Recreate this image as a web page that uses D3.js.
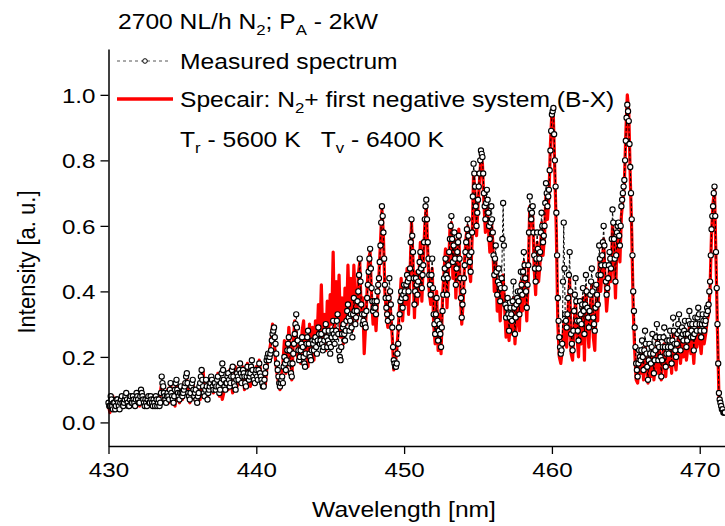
<!DOCTYPE html>
<html lang="en">
<head>
  <meta charset="UTF-8">
  <title>N2+ spectrum</title>
  <script src="https://cdn.jsdelivr.net/npm/d3@7"></script>
</head>
<body style="margin:0; background:#fff;">
<script>
  // sampling grid of the spectrometer (measured every 0.05 nm, Specair every 0.1 nm)
  const wlStart = 430, wlStep = 0.1;

  // measured intensities on the whole-step pixels, one row per nm (430.0 ... 471.7)
  const measured = [
    0.06,0.05,0.07,0.04,0.06,0.05,0.07,0.05,0.06,0.08,
    0.05,0.07,0.09,0.06,0.05,0.08,0.06,0.07,0.05,0.09,
    0.07,0.06,0.10,0.08,0.06,0.07,0.05,0.08,0.06,0.07,
    0.05,0.06,0.08,0.05,0.07,0.06,0.14,0.11,0.08,0.06,
    0.09,0.07,0.12,0.08,0.06,0.10,0.13,0.09,0.07,0.11,
    0.08,0.10,0.12,0.15,0.09,0.07,0.11,0.13,0.08,0.10,
    0.06,0.09,0.12,0.16,0.11,0.08,0.13,0.07,0.10,0.12,
    0.13,0.10,0.12,0.11,0.14,0.09,0.12,0.18,0.13,0.10,
    0.12,0.15,0.11,0.14,0.17,0.12,0.10,0.15,0.13,0.18,
    0.12,0.16,0.14,0.11,0.17,0.13,0.15,0.19,0.14,0.12,
    0.16,0.13,0.18,0.14,0.12,0.11,0.15,0.19,0.21,0.20,
    0.22,0.27,0.29,0.24,0.18,0.14,0.11,0.13,0.12,0.20,
    0.16,0.22,0.26,0.18,0.14,0.21,0.27,0.33,0.25,0.19,
    0.22,0.26,0.20,0.17,0.24,0.28,0.21,0.19,0.25,0.22,
    0.26,0.21,0.29,0.24,0.27,0.22,0.25,0.30,0.23,0.28,
    0.21,0.26,0.31,0.24,0.28,0.33,0.22,0.19,0.27,0.30,
    0.25,0.31,0.36,0.28,0.33,0.26,0.38,0.30,0.34,0.40,
    0.50,0.36,0.30,0.33,0.29,0.38,0.46,0.53,0.41,0.34,
    0.37,0.33,0.40,0.44,0.54,0.66,0.58,0.42,0.35,0.31,
    0.44,0.36,0.29,0.19,0.17,0.18,0.24,0.33,0.40,0.35,
    0.42,0.38,0.45,0.40,0.47,0.62,0.52,0.36,0.44,0.39,
    0.46,0.52,0.41,0.48,0.62,0.68,0.55,0.45,0.39,0.50,
    0.33,0.27,0.38,0.25,0.30,0.23,0.34,0.44,0.50,0.39,
    0.48,0.56,0.63,0.49,0.58,0.42,0.52,0.57,0.44,0.32,
    0.40,0.48,0.55,0.62,0.51,0.46,0.58,0.79,0.72,0.60,
    0.68,0.76,0.83,0.81,0.70,0.62,0.71,0.64,0.56,0.66,
    0.58,0.45,0.54,0.39,0.47,0.37,0.44,0.67,0.41,0.32,
    0.38,0.28,0.35,0.31,0.43,0.27,0.36,0.40,0.33,0.46,
    0.39,0.52,0.44,0.35,0.48,0.69,0.62,0.66,0.51,0.43,
    0.58,0.47,0.52,0.64,0.55,0.60,0.73,0.66,0.71,0.83,
    0.94,0.96,0.80,0.64,0.38,0.26,0.21,0.24,0.61,0.33,
    0.29,0.38,0.52,0.27,0.22,0.34,0.44,0.31,0.25,0.37,
    0.30,0.41,0.27,0.45,0.35,0.29,0.39,0.47,0.32,0.28,
    0.42,0.36,0.54,0.45,0.51,0.60,0.48,0.39,0.44,0.52,
    0.47,0.65,0.56,0.43,0.58,0.61,0.54,0.66,0.70,0.74,
    0.86,0.97,0.92,0.78,0.62,0.40,0.29,0.18,0.14,0.22,
    0.19,0.25,0.16,0.28,0.21,0.13,0.24,0.18,0.27,0.15,
    0.22,0.30,0.19,0.26,0.14,0.23,0.29,0.17,0.25,0.21,
    0.28,0.18,0.32,0.24,0.20,0.27,0.33,0.22,0.29,0.25,
    0.31,0.23,0.27,0.34,0.26,0.30,0.22,0.32,0.28,0.35,
    0.30,0.26,0.33,0.28,0.31,0.35,0.36,0.43,0.59,0.66,
    0.72,0.52,0.30,0.09,0.06,0.04,0.03,0.03
  ];

  // measured intensities on the half-step pixels (430.05 ... 471.65)
  const measuredHalf = [
    0.05,0.08,0.05,0.06,0.04,0.07,0.06,0.04,0.07,0.06,
    0.06,0.08,0.07,0.05,0.07,0.06,0.08,0.06,0.07,0.08,
    0.06,0.08,0.09,0.07,0.05,0.06,0.07,0.06,0.08,0.06,
    0.07,0.05,0.07,0.06,0.05,0.09,0.12,0.09,0.07,0.08,
    0.08,0.10,0.09,0.07,0.08,0.12,0.10,0.08,0.09,0.09,
    0.09,0.11,0.14,0.12,0.08,0.09,0.12,0.10,0.09,0.07,
    0.08,0.11,0.14,0.13,0.09,0.10,0.11,0.09,0.11,0.14,
    0.11,0.12,0.10,0.13,0.11,0.10,0.15,0.16,0.11,0.12,
    0.14,0.13,0.12,0.16,0.14,0.11,0.13,0.14,0.16,0.15,
    0.14,0.15,0.12,0.14,0.15,0.14,0.17,0.16,0.13,0.15,
    0.14,0.16,0.15,0.13,0.11,0.13,0.17,0.20,0.19,0.21,
    0.25,0.28,0.26,0.21,0.16,0.12,0.12,0.14,0.17,0.18,
    0.19,0.24,0.22,0.15,0.18,0.24,0.30,0.29,0.22,0.20,
    0.24,0.23,0.18,0.21,0.26,0.24,0.20,0.22,0.24,0.25,
    0.23,0.25,0.27,0.25,0.24,0.23,0.28,0.26,0.25,0.24,
    0.23,0.28,0.27,0.26,0.31,0.27,0.20,0.23,0.29,0.27,
    0.28,0.34,0.32,0.31,0.29,0.33,0.34,0.32,0.37,0.45,
    0.43,0.33,0.31,0.30,0.34,0.42,0.50,0.47,0.37,0.35,
    0.35,0.37,0.42,0.49,0.61,0.63,0.50,0.38,0.33,0.38,
    0.40,0.32,0.23,0.18,0.17,0.21,0.29,0.37,0.38,0.39,
    0.40,0.42,0.43,0.44,0.55,0.57,0.44,0.40,0.42,0.43,
    0.49,0.47,0.45,0.55,0.66,0.62,0.50,0.42,0.45,0.41,
    0.30,0.33,0.31,0.28,0.27,0.29,0.39,0.47,0.45,0.44,
    0.52,0.60,0.56,0.54,0.50,0.47,0.55,0.50,0.38,0.36,
    0.44,0.52,0.59,0.57,0.49,0.52,0.69,0.76,0.66,0.64,
    0.72,0.80,0.82,0.76,0.66,0.67,0.68,0.60,0.61,0.62,
    0.51,0.50,0.46,0.43,0.42,0.41,0.56,0.54,0.36,0.35,
    0.33,0.32,0.33,0.37,0.35,0.32,0.38,0.37,0.40,0.42,
    0.46,0.48,0.40,0.42,0.58,0.65,0.64,0.58,0.47,0.50,
    0.53,0.50,0.58,0.60,0.57,0.67,0.70,0.69,0.77,0.89,
    0.95,0.88,0.72,0.51,0.31,0.23,0.22,0.43,0.47,0.31,
    0.33,0.45,0.40,0.24,0.28,0.39,0.37,0.28,0.31,0.33,
    0.36,0.34,0.36,0.40,0.32,0.34,0.43,0.40,0.30,0.35,
    0.39,0.45,0.50,0.48,0.55,0.54,0.43,0.41,0.48,0.50,
    0.56,0.61,0.50,0.51,0.60,0.57,0.60,0.68,0.72,0.80,
    0.93,0.95,0.85,0.70,0.51,0.34,0.23,0.16,0.18,0.20,
    0.22,0.20,0.22,0.24,0.17,0.19,0.21,0.23,0.21,0.19,
    0.26,0.24,0.23,0.20,0.19,0.26,0.23,0.21,0.23,0.25,
    0.23,0.25,0.28,0.22,0.24,0.30,0.28,0.26,0.27,0.28,
    0.27,0.25,0.31,0.30,0.28,0.26,0.27,0.30,0.32,0.33,
    0.28,0.30,0.31,0.30,0.33,0.34,0.40,0.51,0.63,0.70,
    0.63,0.41,0.18,0.07,0.05,0.04,0.03
  ];

  // Specair simulation (430.0 ... 471.7)
  const specair = [
    0.05,0.03,0.06,0.08,0.05,0.04,0.06,0.05,0.07,0.06,
    0.05,0.08,0.09,0.05,0.07,0.06,0.08,0.05,0.07,0.06,
    0.08,0.05,0.07,0.09,0.06,0.05,0.08,0.06,0.05,0.07,
    0.06,0.08,0.05,0.07,0.06,0.09,0.12,0.08,0.06,0.07,
    0.10,0.06,0.12,0.07,0.09,0.05,0.11,0.08,0.06,0.10,
    0.07,0.12,0.09,0.13,0.08,0.06,0.10,0.13,0.07,0.09,
    0.08,0.11,0.07,0.12,0.16,0.09,0.11,0.08,0.12,0.10,
    0.12,0.09,0.13,0.10,0.15,0.08,0.11,0.07,0.09,0.12,
    0.14,0.10,0.16,0.12,0.09,0.14,0.17,0.11,0.13,0.16,
    0.12,0.17,0.10,0.15,0.18,0.13,0.11,0.16,0.12,0.15,
    0.17,0.13,0.19,0.15,0.12,0.14,0.11,0.16,0.20,0.22,
    0.25,0.30,0.26,0.19,0.15,0.12,0.10,0.14,0.18,0.25,
    0.15,0.20,0.29,0.22,0.13,0.24,0.31,0.27,0.20,0.24,
    0.18,0.28,0.31,0.20,0.26,0.17,0.30,0.22,0.29,0.19,
    0.31,0.24,0.36,0.26,0.42,0.25,0.33,0.22,0.37,0.28,
    0.39,0.30,0.52,0.27,0.43,0.31,0.45,0.26,0.38,0.24,
    0.41,0.30,0.48,0.33,0.44,0.28,0.48,0.36,0.31,0.45,
    0.49,0.33,0.38,0.21,0.30,0.41,0.50,0.52,0.38,0.30,
    0.35,0.28,0.37,0.45,0.55,0.65,0.57,0.40,0.33,0.29,
    0.40,0.33,0.26,0.16,0.18,0.22,0.28,0.36,0.44,0.31,
    0.40,0.36,0.47,0.33,0.45,0.61,0.50,0.32,0.46,0.36,
    0.44,0.55,0.37,0.49,0.60,0.66,0.52,0.40,0.36,0.47,
    0.30,0.24,0.40,0.22,0.33,0.21,0.38,0.46,0.53,0.35,
    0.45,0.59,0.61,0.44,0.56,0.38,0.50,0.59,0.40,0.30,
    0.37,0.50,0.57,0.60,0.47,0.43,0.56,0.76,0.70,0.57,
    0.66,0.74,0.81,0.79,0.67,0.58,0.68,0.60,0.52,0.62,
    0.55,0.40,0.50,0.34,0.43,0.31,0.40,0.45,0.35,0.26,
    0.33,0.25,0.31,0.27,0.38,0.24,0.32,0.37,0.28,0.43,
    0.34,0.49,0.40,0.31,0.45,0.66,0.60,0.63,0.47,0.39,
    0.55,0.43,0.49,0.61,0.51,0.57,0.70,0.62,0.69,0.85,
    0.95,0.93,0.76,0.58,0.30,0.20,0.18,0.22,0.30,0.25,
    0.23,0.35,0.44,0.21,0.19,0.30,0.37,0.26,0.20,0.33,
    0.24,0.38,0.19,0.41,0.30,0.23,0.35,0.42,0.26,0.22,
    0.38,0.31,0.50,0.40,0.47,0.56,0.43,0.34,0.40,0.48,
    0.43,0.61,0.52,0.38,0.55,0.58,0.49,0.63,0.68,0.73,
    0.88,1.00,0.95,0.75,0.58,0.35,0.22,0.13,0.12,0.18,
    0.15,0.21,0.13,0.24,0.17,0.12,0.20,0.14,0.23,0.13,
    0.18,0.25,0.15,0.22,0.13,0.19,0.24,0.14,0.21,0.17,
    0.23,0.15,0.27,0.19,0.16,0.23,0.28,0.18,0.24,0.20,
    0.26,0.19,0.23,0.29,0.21,0.25,0.18,0.27,0.23,0.29,
    0.25,0.21,0.28,0.24,0.27,0.31,0.33,0.41,0.58,0.67,
    0.71,0.50,0.28,0.08,0.05,0.04,0.03,0.03
  ];

  const xMajor = [430, 440, 450, 460, 470];
  const xMinor = [435, 445, 455, 465];
  const yMajor = [0, 0.2, 0.4, 0.6, 0.8, 1.0];
  const yMinor = [0.1, 0.3, 0.5, 0.7, 0.9, 1.1];

  const width = 725, height = 526;
  const font = "'Liberation Sans', Arial, sans-serif";
  const stretch = 1.12; // glyphs in the picture are a bit wider than Arial

  const simPoints = specair.map((v, i) => ({wl: wlStart + i * wlStep, v}));
  const measPoints = [];
  measured.forEach((v, i) => {
    measPoints.push({wl: wlStart + i * wlStep, v});
    if (i < measuredHalf.length) measPoints.push({wl: wlStart + (i + 0.5) * wlStep, v: measuredHalf[i]});
  });

  const xScale = d3.scaleLinear().domain([430, 471.71]).range([108.5, 725]);
  const yScale = d3.scaleLinear().domain([-0.072, 1.14]).range([446, 49]);

  const svg = d3.select("body")
          .append("svg")
          .attr("width", width)
          .attr("height", height)
          .style("display", "block")
          .style("font-family", font);

  const line = d3.line()
          .x(d => xScale(d.wl))
          .y(d => yScale(d.v));

  // simulated spectrum
  svg.append("path")
          .datum(simPoints)
          .attr("fill", "none")
          .attr("stroke", "#ff0000")
          .attr("stroke-width", 3.2)
          .attr("stroke-linejoin", "round")
          .attr("d", line);

  // measured spectrum: dashed line + open circles
  svg.append("path")
          .datum(measPoints)
          .attr("fill", "none")
          .attr("stroke", "#000")
          .attr("stroke-width", 1)
          .attr("stroke-dasharray", "3,2")
          .attr("d", line);

  svg.append("g")
          .selectAll("circle")
          .data(measPoints)
          .enter()
          .append("circle")
          .attr("cx", d => xScale(d.wl))
          .attr("cy", d => yScale(d.v))
          .attr("r", 2.6)
          .attr("fill", "#fff")
          .attr("stroke", "#000")
          .attr("stroke-width", 1.15);

  // axes
  const xAxis = svg.append("g").attr("transform", `translate(0, ${yScale.range()[0]})`);
  xAxis.call(d3.axisBottom(xScale).tickValues(xMinor).tickSize(5).tickSizeOuter(0).tickFormat(""));
  xAxis.call(d3.axisBottom(xScale).tickValues(xMajor).tickSize(8).tickSizeOuter(0).tickFormat(d3.format("d")));

  const yAxis = svg.append("g").attr("transform", `translate(${xScale.range()[0]}, 0)`);
  yAxis.call(d3.axisLeft(yScale).tickValues(yMinor).tickSize(5).tickSizeOuter(0).tickFormat(""));
  yAxis.call(d3.axisLeft(yScale).tickValues(yMajor).tickSize(8).tickSizeOuter(0).tickFormat(d3.format(".1f")));

  svg.selectAll(".domain").attr("stroke-width", 1.5);
  svg.selectAll(".tick line").attr("stroke-width", 1.3);

  xAxis.selectAll("text")
          .attr("font-size", 21)
          .attr("font-family", font)
          .attr("fill", "#000")
          .attr("y", 0).attr("dy", 0)
          .attr("transform", "translate(0, 31) scale(1.15, 1)");

  yAxis.selectAll("text")
          .attr("font-size", 21)
          .attr("font-family", font)
          .attr("fill", "#000")
          .attr("x", 0).attr("dy", "0.35em")
          .attr("transform", "translate(-13, 0) scale(1.15, 1)");

  // axis titles
  svg.append("text")
          .attr("transform", `translate(404, 517) scale(${stretch}, 1)`)
          .attr("text-anchor", "middle")
          .attr("font-size", 22)
          .text("Wavelength [nm]");

  svg.append("text")
          .attr("transform", `translate(35, 262) scale(${stretch}, 1) rotate(-90)`)
          .attr("text-anchor", "middle")
          .attr("font-size", 22)
          .text("Intensity [a. u.]");

  // title with subscripts
  const title = svg.append("text")
          .attr("transform", `translate(118, 29) scale(${stretch}, 1)`)
          .attr("font-size", 22);
  title.append("tspan").text("2700 NL/h N");
  title.append("tspan").attr("font-size", 15).attr("dy", 6).text("2");
  title.append("tspan").attr("dy", -6).text("; P");
  title.append("tspan").attr("font-size", 15).attr("dy", 6).text("A");
  title.append("tspan").attr("dy", -6).text(" - 2kW");

  // legend
  const legend = svg.append("g");
  legend.append("line")
          .attr("x1", 117).attr("x2", 170).attr("y1", 61).attr("y2", 61)
          .attr("stroke", "#555").attr("stroke-width", 1).attr("stroke-dasharray", "3,3");
  legend.append("circle")
          .attr("cx", 145).attr("cy", 61).attr("r", 2.3)
          .attr("fill", "#fff").attr("stroke", "#000");
  legend.append("text")
          .attr("transform", `translate(180, 69) scale(${stretch}, 1)`)
          .attr("font-size", 22)
          .text("Measured spectrum");

  legend.append("line")
          .attr("x1", 117).attr("x2", 173).attr("y1", 99).attr("y2", 99)
          .attr("stroke", "#ff0000").attr("stroke-width", 3.5);
  const specText = legend.append("text")
          .attr("transform", `translate(180, 107) scale(${stretch}, 1)`)
          .attr("font-size", 22);
  specText.append("tspan").text("Specair: N");
  specText.append("tspan").attr("font-size", 15).attr("dy", 6).text("2");
  specText.append("tspan").attr("dy", -6).text("+ first negative system (B-X)");

  const tempText = legend.append("text")
          .attr("transform", `translate(180, 147) scale(${stretch}, 1)`)
          .attr("font-size", 22)
          .style("white-space", "pre");
  tempText.append("tspan").text("T");
  tempText.append("tspan").attr("font-size", 15).attr("dy", 6).text("r");
  tempText.append("tspan").attr("dy", -6).text(" - 5600 K   T");
  tempText.append("tspan").attr("font-size", 15).attr("dy", 6).text("v");
  tempText.append("tspan").attr("dy", -6).text(" - 6400 K");
</script>
</body>
</html>
